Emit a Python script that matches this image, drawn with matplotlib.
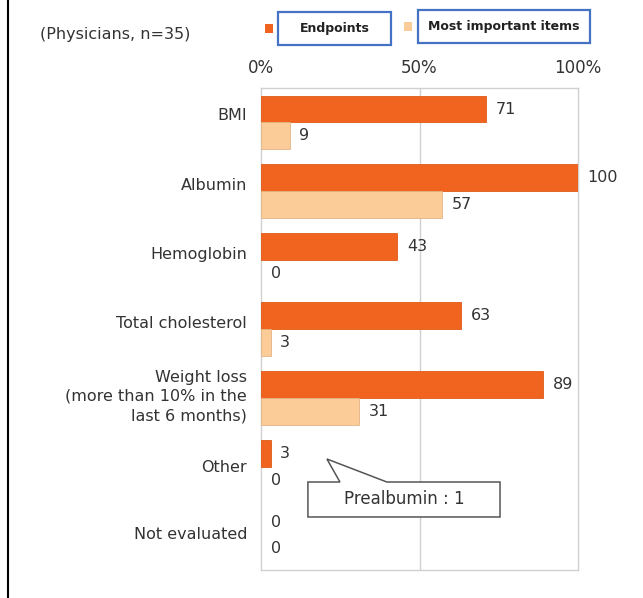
import matplotlib.pyplot as plt
from matplotlib.patches import Rectangle, Polygon
from matplotlib.lines import Line2D
from matplotlib.transforms import ScaledTranslation

# Nutrition assessment items used by physicians (n=35), percent
categories = ['BMI', 'Albumin', 'Hemoglobin', 'Total cholesterol',
              'Weight loss\n(more than 10% in the\nlast 6 months)',
              'Other', 'Not evaluated']
endpoints = [71, 100, 43, 63, 89, 3, 0]
most_important = [9, 57, 0, 3, 31, 0, 0]
series_names = ['Endpoints', 'Most important items']
x_ticks = [0, 50, 100]
x_tick_labels = ['0%', '50%', '100%']
note_text = 'Prealbumin : 1'

ORANGE = '#F0641F'
PEACH = '#FBCB98'
TEXT = '#333333'
GRID = '#D0D0D0'

fig = plt.figure(figsize=(6.43, 5.98), dpi=100)
ax = fig.add_axes([261 / 643, 1 - 570 / 598, 317 / 643, 482 / 598])

ypos = list(range(len(categories)))
h = 0.39
ax.barh([y - h / 2 for y in ypos], endpoints, height=h, color=ORANGE,
        edgecolor='#E05A18', linewidth=[0.6 if v else 0 for v in endpoints], zorder=3)
ax.barh([y + h / 2 for y in ypos], most_important, height=h, color=PEACH,
        edgecolor='#E2B486', linewidth=[0.6 if v else 0 for v in most_important], zorder=3)

# value labels just right of each bar end
for y, v in zip(ypos, endpoints):
    ax.annotate(str(v), (v, y - h / 2), xytext=(7, 0), textcoords='offset points',
                ha='left', va='center', fontsize=11.5, color=TEXT, annotation_clip=False)
for y, v in zip(ypos, most_important):
    ax.annotate(str(v), (v, y + h / 2), xytext=(7, 0), textcoords='offset points',
                ha='left', va='center', fontsize=11.5, color=TEXT, annotation_clip=False)

ax.set_xlim(0, 100)
ax.set_ylim(len(categories) - 0.5, -0.5)
ax.xaxis.tick_top()
ax.set_xticks(x_ticks)
ax.set_xticklabels(x_tick_labels, fontsize=12, color=TEXT)
ax.set_yticks(ypos)
ax.set_yticklabels(categories, fontsize=11.5, color=TEXT, linespacing=1.35)
ax.tick_params(axis='x', length=0, pad=8)
ax.tick_params(axis='y', length=0, pad=10)

# nudge category labels up a little, as laid out in the source slide
label_lift_px = [8, 7, 7, 7, 5, 1, 3]
for lbl, dy in zip(ax.get_yticklabels(), label_lift_px):
    lbl.set_transform(lbl.get_transform() + ScaledTranslation(0, dy / 100, fig.dpi_scale_trans))

ax.axvline(50, color=GRID, linewidth=1, zorder=1)
for s in ax.spines.values():
    s.set_color(GRID)
    s.set_linewidth(1)

# callout box with pointer toward the "Other" bar
bx0, bx1 = 14.8, 75.4
by0, by1 = 5.222, 5.73
callout = Polygon([(bx0, by0), (24.9, by0), (20.8, 4.888), (39.7, by0),
                   (bx1, by0), (bx1, by1), (bx0, by1)], closed=True,
                  facecolor='white', edgecolor='#555555', linewidth=1.1,
                  zorder=5, clip_on=False)
ax.add_patch(callout)
ax.text((bx0 + bx1) / 2, (by0 + by1) / 2, note_text, ha='center', va='center',
        fontsize=12, color=TEXT, zorder=6)

# header: sample note and legend boxes
fig.text(40 / 643, 1 - 35 / 598, '(Physicians, n=35)', ha='left', va='center',
         fontsize=11.5, color=TEXT)
legend_boxes = [(265, 278, 391, 12, 45), (404, 418, 590, 10, 43)]
for (sq_x, x0, x1, y0, y1), name, col in zip(legend_boxes, series_names, [ORANGE, PEACH]):
    cy = (y0 + y1) / 2
    fig.patches.append(Rectangle((sq_x / 643, 1 - (cy + 4.5) / 598), 8 / 643, 9 / 598,
                                 transform=fig.transFigure, facecolor=col,
                                 edgecolor='none'))
    fig.patches.append(Rectangle((x0 / 643, 1 - y1 / 598), (x1 - x0) / 643, (y1 - y0) / 598,
                                 transform=fig.transFigure, facecolor='white',
                                 edgecolor='#4472C4', linewidth=1.6))
    fig.text((x0 + x1) / 2 / 643, 1 - cy / 598, name, ha='center', va='center',
             fontsize=9, fontweight='bold', color='#222222')

# left border rule
fig.add_artist(Line2D([8 / 643, 8 / 643], [0, 1], transform=fig.transFigure,
                      color='black', linewidth=1.5))

fig.savefig('out.png', dpi=100)
